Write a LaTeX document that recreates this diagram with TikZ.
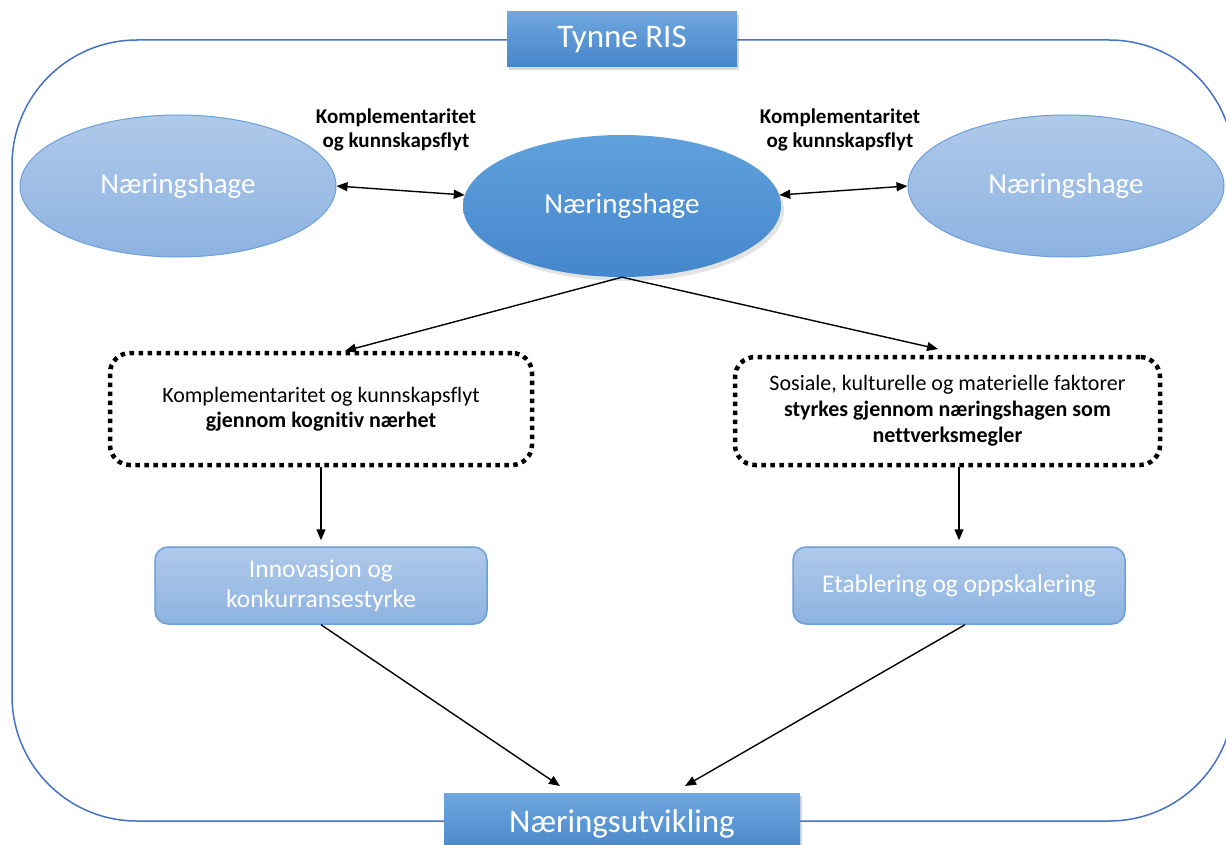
\documentclass[tikz,border=0pt]{standalone}
\usepackage{fontspec}
\setmainfont{Carlito}[Ligatures=NoCommon]
\usetikzlibrary{shapes.geometric,shadows,arrows.meta}
\definecolor{framecol}{HTML}{4472C4}
\definecolor{darktop}{HTML}{6FA7DE}
\definecolor{darkbot}{HTML}{4785CA}
\definecolor{midtop}{HTML}{5FA0DC}
\definecolor{midbot}{HTML}{4587CC}
\definecolor{lighttop}{HTML}{AFC9E9}
\definecolor{lightbot}{HTML}{8DB3E1}
\definecolor{lightedge}{HTML}{6A9FD8}
\tikzset{
  banner/.style={rectangle, top color=darktop, bottom color=darkbot, draw=none,
    text=white, font=\fontsize{33}{37}\selectfont, inner sep=0pt,
    drop shadow={opacity=0.3, shadow xshift=2pt, shadow yshift=-3pt}},
  sidepark/.style={ellipse, top color=lighttop, bottom color=lightbot, draw=lightedge,
    line width=1pt, text=white, font=\fontsize{29}{33}\selectfont,
    minimum width=316pt, minimum height=142pt, inner sep=0pt},
  mainpark/.style={ellipse, top color=midtop, bottom color=midbot, draw=none,
    text=white, font=\fontsize{29}{33}\selectfont,
    minimum width=318pt, minimum height=142pt, inner sep=0pt,
    drop shadow={opacity=0.22, shadow xshift=3pt, shadow yshift=-4pt}},
  flowlabel/.style={align=center, font=\bfseries\fontsize{21}{24}\selectfont},
  dotbox/.style={rectangle, rounded corners=20pt, draw=black, line width=4.5pt,
    dash pattern=on 4.5pt off 4.5pt, align=center, inner sep=0pt},
  outcome/.style={rectangle, rounded corners=13pt, top color=lighttop, bottom color=lightbot,
    draw=lightedge, line width=1.5pt, text=white, align=center,
    font=\fontsize{25.5}{30}\selectfont, minimum width=332pt, minimum height=77pt, inner sep=0pt},
  link/.style={line width=1.4pt, -{Triangle[length=11pt,width=9pt]}},
  duallink/.style={line width=1.4pt, {Triangle[length=11pt,width=9pt]}-{Triangle[length=11pt,width=9pt]}}
}
\begin{document}
\begin{tikzpicture}[x=1pt,y=-1pt]
\path[use as bounding box] (0,0) rectangle (1226,845);
\clip (0,0) rectangle (1226,845);

% regional frame
\draw[framecol, line width=1.5pt, rounded corners=125pt] (12,40) rectangle (1234,821);

% title and outcome banners
\node[banner, minimum width=230pt, minimum height=55pt] (ris) at (622,39.5) {Tynne RIS};
\node[banner, minimum width=356pt, minimum height=62pt] (utv) at (622,824) {Næringsutvikling};

% business parks
\node[sidepark] (lh) at (178,186) {Næringshage};
\node[mainpark] (mid) at (622,206) {Næringshage};
\node[sidepark] (rh) at (1066,186) {Næringshage};

\node[flowlabel] (ll) at (396,130) {Komplementaritet\\og kunnskapsflyt};
\node[flowlabel] (rl) at (840,130) {Komplementaritet\\og kunnskapsflyt};

\draw[duallink] (lh.east) -- (mid.176);
\draw[duallink] (mid.4) -- (rh.west);

% mechanisms
\node[dotbox, font=\fontsize{22}{25}\selectfont, minimum width=422pt, minimum height=112pt] (lbox) at (321,409)
  {Komplementaritet og kunnskapsflyt\\
   \textbf{gjennom kognitiv nærhet}};
\node[dotbox, font=\fontsize{22}{26}\selectfont, minimum width=425pt, minimum height=108pt] (rbox) at (947.5,411)
  {Sosiale, kulturelle og materielle faktorer\\
   \textbf{styrkes gjennom næringshagen som}\\
   \textbf{nettverksmegler}};

\coordinate (la) at (345,351);
\coordinate (ra) at (938,349);
\draw[link] (mid.south) -- (la);
\draw[link] (mid.south) -- (ra);

% effects
\node[outcome] (inno) at (321,585.5) {Innovasjon og\\konkurransestyrke};
\node[outcome] (etab) at (959,585.5) {Etablering og oppskalering};

\draw[link, shorten >=6pt] (lbox.south) -- (inno.north);
\draw[link, shorten >=6pt] (etab.north |- rbox.south) -- (etab.north);

\coordinate (lu) at (560,786);
\coordinate (ru) at (685,786);
\draw[link] (inno.south) -- (lu);
\draw[link] ([xshift=6pt]etab.south) -- (ru);
\end{tikzpicture}
\end{document}
